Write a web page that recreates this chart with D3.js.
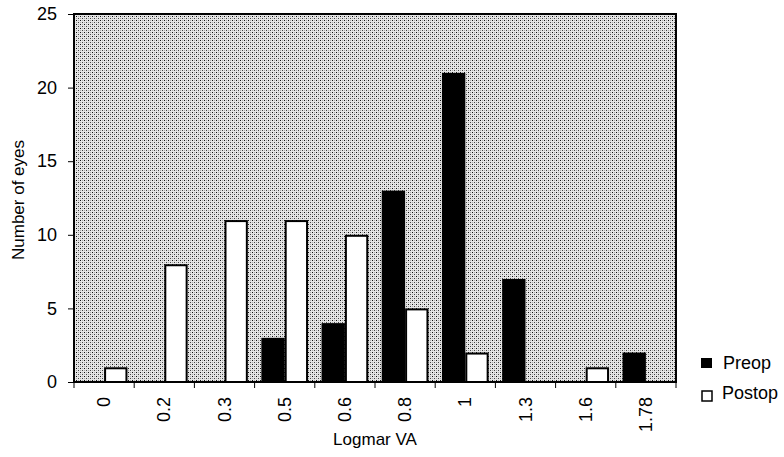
<!DOCTYPE html>
<html><head><meta charset="utf-8">
<script src="https://cdn.jsdelivr.net/npm/d3@7"></script>
<style>body{margin:0;background:#fff;} svg{display:block;font-family:"Liberation Sans",Arial,sans-serif;}</style>
</head><body>
<svg id="c" width="784" height="457"></svg>
<script>
const categories = ["0","0.2","0.3","0.5","0.6","0.8","1","1.3","1.6","1.78"];
const preop  = [0,0,0,3,4,13,21,7,0,2];
const postop = [1,8,11,11,10,5,2,0,1,0];
const yTicks = [0,5,10,15,20,25];
const seriesNames = ["Preop","Postop"];

const svg = d3.select("#c");
const m = {left:74, right:676, top:14, bottom:382};

const defs = svg.append("defs");
const pat = defs.append("pattern").attr("id","dots").attr("patternUnits","userSpaceOnUse")
  .attr("width",4).attr("height",4);
pat.append("rect").attr("width",4).attr("height",4).attr("fill","#e6e6e6");
pat.append("rect").attr("x",0).attr("y",0).attr("width",1).attr("height",1).attr("fill","#111");
pat.append("rect").attr("x",2).attr("y",2).attr("width",1).attr("height",1).attr("fill","#444");
pat.append("rect").attr("x",2).attr("y",0).attr("width",1).attr("height",1).attr("fill","#aaa");
pat.append("rect").attr("x",0).attr("y",2).attr("width",1).attr("height",1).attr("fill","#aaa");

const x = d3.scaleBand().domain(categories).range([m.left,m.right]).paddingInner(0).paddingOuter(0);
const xs = d3.scaleBand().domain(seriesNames).range([0,x.bandwidth()]).paddingInner(0).paddingOuter(0.5*11/19);
const y = d3.scaleLinear().domain([0,25]).range([m.bottom,m.top]);

svg.append("rect").attr("x",m.left).attr("y",m.top).attr("width",m.right-m.left).attr("height",m.bottom-m.top)
  .attr("fill","url(#dots)");

const data = categories.map((c,i)=>({c, vals:[{s:"Preop",v:preop[i]},{s:"Postop",v:postop[i]}]}));
const g = svg.append("g");
data.forEach(d=>{
  d.vals.forEach(e=>{
    if(e.v<=0) return;
    const x0 = x(d.c)+xs(e.s);
    if(e.s==="Preop"){
      g.append("rect").attr("x",x0).attr("y",y(e.v)).attr("width",xs.bandwidth()).attr("height",y(0)-y(e.v)).attr("fill","#000");
    } else {
      g.append("rect").attr("x",x0+1).attr("y",y(e.v)+1).attr("width",xs.bandwidth()-2).attr("height",y(0)-y(e.v)-1)
        .attr("fill","#fff").attr("stroke","#000").attr("stroke-width",2);
    }
  });
});

// frame
svg.append("rect").attr("x",m.left).attr("y",m.top).attr("width",m.right-m.left).attr("height",m.bottom-m.top)
  .attr("fill","none").attr("stroke","#000").attr("stroke-width",2);

// y axis
const ya = svg.append("g").attr("transform",`translate(${m.left},0)`)
  .call(d3.axisLeft(y).tickValues(yTicks).tickSize(6).tickPadding(11).tickFormat(d3.format("d")));
ya.select(".domain").remove();
ya.selectAll("line").attr("stroke","#000");
ya.selectAll("text").attr("font-size",18).attr("fill","#000").attr("font-family","Liberation Sans, Arial, sans-serif");

// x axis with ticks at category boundaries
const bounds = categories.map(c=>x(c)).concat([m.right]);
svg.append("g").selectAll("line").data(bounds).join("line")
  .attr("x1",d=>d).attr("x2",d=>d).attr("y1",m.bottom).attr("y2",m.bottom+6).attr("stroke","#000");
svg.append("g").selectAll("text").data(categories).join("text")
  .attr("transform",d=>`translate(${x(d)+x.bandwidth()/2+6},${m.bottom+15}) rotate(-90)`)
  .attr("text-anchor","end").attr("font-size",18).attr("fill","#000").text(d=>d);

svg.append("text").attr("x",m.left+(m.right-m.left)/2).attr("y",445).attr("text-anchor","middle")
  .attr("font-size",17).text("Logmar VA");
svg.append("text").attr("transform",`translate(24,${(m.top+m.bottom)/2+2}) rotate(-90)`).attr("text-anchor","middle")
  .attr("font-size",17).text("Number of eyes");

// legend
const lg = svg.append("g");
lg.append("rect").attr("x",701).attr("y",358).attr("width",11).attr("height",10).attr("fill","#000");
lg.append("text").attr("x",723).attr("y",369).attr("font-size",18).text(seriesNames[0]);
lg.append("rect").attr("x",702).attr("y",391).attr("width",10).attr("height",10)
  .attr("fill","#fff").attr("stroke","#000").attr("stroke-width",1.5);
lg.append("text").attr("x",722).attr("y",399).attr("font-size",18).text(seriesNames[1]);
</script>
</body></html>
